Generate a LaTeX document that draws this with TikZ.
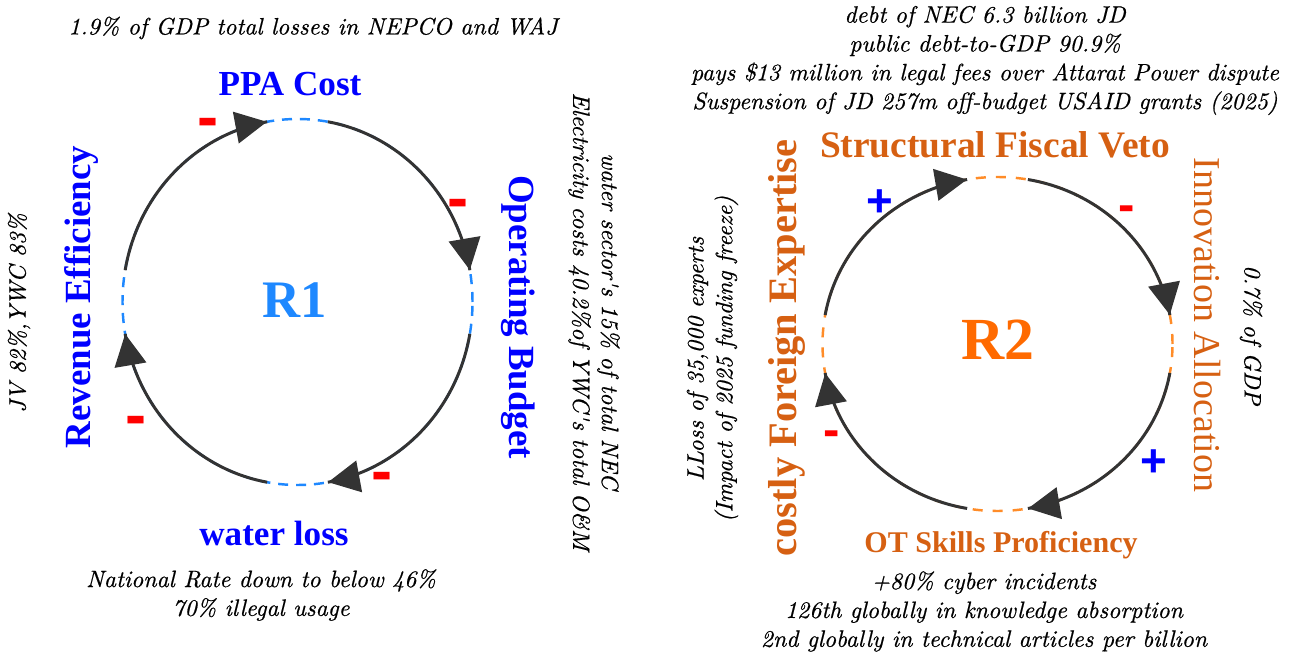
\documentclass[tikz,border=0pt]{standalone}
\usepackage{fontspec}
\usepackage{tikz}
\usetikzlibrary{arrows.meta}
\usetikzlibrary{decorations.markings}
\newfontfamily\labelfont{Liberation Serif}
\newfontfamily\signfont{Liberation Sans}
\newfontfamily\notefont[FakeBold=0.6]{lmroman10-italic.otf}
\definecolor{arrowgray}{HTML}{333333}
\definecolor{loopblue}{RGB}{30,136,255}
\definecolor{looporange}{RGB}{255,140,40}
\definecolor{varorange}{RGB}{214,96,18}
\definecolor{rtwo}{RGB}{255,106,0}

\begin{document}
\begin{tikzpicture}[x=0.02cm,y=0.02cm]
  \tikzstyle{Link} = [draw,line width=1.7pt,arrowgray,postaction={decorate},
    decoration={markings,mark=at position 0.999 with {\arrow{Triangle[length=18pt,width=18pt]}}}]
  \tikzstyle{LoopA} = [draw,loopblue,line width=1.4pt,dash pattern=on 5.7pt off 4.5pt]
  \tikzstyle{LoopB} = [draw,looporange,line width=1.4pt,dash pattern=on 5.7pt off 5.7pt]
  \tikzstyle{Note} = [inner sep=0pt,align=center,font=\notefont\fontsize{13.5}{16.4}\selectfont]
  \tikzstyle{VarA} = [inner sep=0pt,text=blue,font=\labelfont\bfseries\fontsize{20}{24}\selectfont]
  \tikzstyle{VarB} = [inner sep=0pt,text=varorange,font=\labelfont\bfseries\fontsize{21.3}{25}\selectfont]
  \tikzstyle{Neg} = [inner sep=0pt,yshift=-4.3pt,text=red,font=\signfont\bfseries\fontsize{36}{36}\selectfont]
  \tikzstyle{SmallNeg} = [inner sep=0pt,yshift=-3.6pt,text=red,font=\signfont\bfseries\fontsize{28}{28}\selectfont]
  \tikzstyle{Pos} = [inner sep=0pt,text=blue,font=\signfont\bfseries\fontsize{26}{26}\selectfont]
  \useasboundingbox (0,0) rectangle (1290,656);
  %%
  \begin{scope}[shift={(297.5,354)}]
    \path[LoopA] (0,0) ellipse [x radius=175,y radius=183];
    \coordinate (a1) at (170:175 and 183);
    \coordinate (a2) at (80:175 and 183);
    \coordinate (a3) at (-10:175 and 183);
    \coordinate (a4) at (-100:175 and 183);
    \path[Link] (a1) arc[start angle=170,end angle=100,x radius=175,y radius=183];
    \path[Link] (a2) arc[start angle=80,end angle=10,x radius=175,y radius=183];
    \path[Link] (a3) arc[start angle=-10,end angle=-80,x radius=175,y radius=183];
    \path[Link] (a4) arc[start angle=-100,end angle=-170,x radius=175,y radius=183];
    %%
    \node[inner sep=0pt,text=loopblue,font=\labelfont\bfseries\fontsize{30}{36}\selectfont] (R1) at (-2.5,2) {R1};
    \node[VarA] (ppa) at (-7.5,218) {PPA Cost};
    \node[VarA,rotate=-90,font=\labelfont\bfseries\fontsize{21}{25}\selectfont] (budget) at (220.5,-15) {Operating Budget};
    \node[VarA] (loss) at (-23.5,-231) {water loss};
    \node[VarA,rotate=90,font=\labelfont\bfseries\fontsize{21}{25}\selectfont] (revenue) at (-216.5,5) {Revenue Efficiency};
    %%
    \node[Note] (gdp) at (15.5,274) {1.9\% of GDP total losses in NEPCO and WAJ};
    \node[Note,rotate=-90] (nec) at (296.5,-19.5) {water sector's 15\% of total NEC\\Electricity costs 40.2\%of YWC's total O\&M};
    \node[Note] (rate) at (-36.5,-293) {National Rate down to below 46\%\\70\% illegal usage};
    \node[Note,rotate=90] (jv) at (-278.5,-11) {JV 82\%,YWC 83\%};
    %%
    \node[Neg] (s1) at (-89.5,181) {-};
    \node[Neg] (s2) at (160.5,100) {-};
    \node[Neg] (s3) at (84.5,-173) {-};
    \node[Neg] (s4) at (-161.5,-117) {-};
  \end{scope}
  %%
  \begin{scope}[shift={(997.5,312)}]
    \path[LoopB] (0,0) ellipse [x radius=175,y radius=167];
    \coordinate (b1) at (170:175 and 167);
    \coordinate (b2) at (80:175 and 167);
    \coordinate (b3) at (-10:175 and 167);
    \coordinate (b4) at (-100:175 and 167);
    \path[Link] (b1) arc[start angle=170,end angle=100,x radius=175,y radius=167];
    \path[Link] (b2) arc[start angle=80,end angle=10,x radius=175,y radius=167];
    \path[Link] (b3) arc[start angle=-10,end angle=-80,x radius=175,y radius=167];
    \path[Link] (b4) arc[start angle=-100,end angle=-170,x radius=175,y radius=167];
    %%
    \node[inner sep=0pt,text=rtwo,font=\labelfont\bfseries\fontsize{34}{40}\selectfont] (R2) at (0.5,4) {R2};
    \node[VarB] (veto) at (-2.5,199) {Structural Fiscal Veto};
    \node[VarB,rotate=-90,font=\labelfont\fontsize{21.6}{25}\selectfont] (innov) at (209.5,19) {Innovation Allocation};
    \node[VarB,font=\labelfont\bfseries\fontsize{17.1}{20}\selectfont] (skills) at (3.5,-201) {OT Skills Proficiency};
    \node[VarB,rotate=90,font=\labelfont\bfseries\fontsize{23}{27}\selectfont] (foreign) at (-210.5,-4) {costly Foreign Expertise};
    %%
    \node[Note] (debt) at (-12.5,283.5) {debt of NEC 6.3 billion JD\\public debt-to-GDP 90.9\%\\pays \$13 million in legal fees over Attarat Power dispute\\Suspension of JD 257m off-budget USAID grants (2025)};
    \node[Note,rotate=-90] (share) at (253.5,9) {0.7\% of GDP};
    \node[Note] (cyber) at (-13.5,-267.5) {+80\% cyber incidents\\126th globally in knowledge absorption\\2nd globally in technical articles per billion};
    \node[Note,rotate=90] (experts) at (-285,-15) {LLoss of 35,000 experts\\(Impact of 2025 funding freeze)};
    %%
    \node[Pos] (t1) at (-117.5,141) {+};
    \node[SmallNeg] (t2) at (129.5,137) {-};
    \node[Pos] (t3) at (156.5,-119) {+};
    \node[SmallNeg] (t4) at (-165.5,-88) {-};
  \end{scope}
\end{tikzpicture}
\end{document}
